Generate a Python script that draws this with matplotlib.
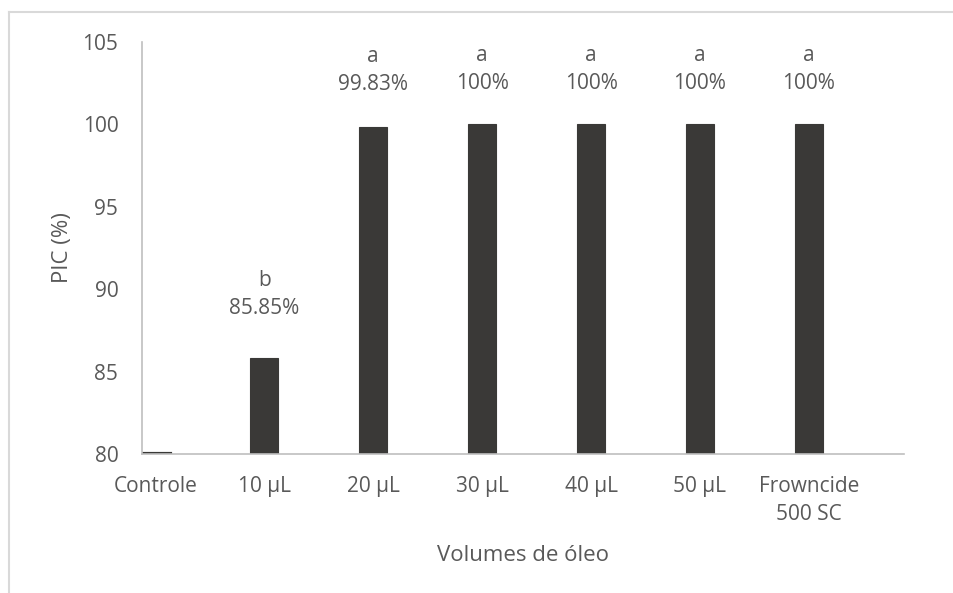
import matplotlib.pyplot as plt
from matplotlib.lines import Line2D
import numpy as np

categories = ["Controle", "10 µL", "20 µL", "30 µL", "40 µL", "50 µL", "Frowncide\n500 SC"]
pic_values = [0, 85.85, 99.83, 100, 100, 100, 100]
letters = ["", "b", "a", "a", "a", "a", "a"]
value_labels = ["", "85.85%", "99.83%", "100%", "100%", "100%", "100%"]
label_offsets = [0, 45.5, 41, 39.5, 39.5, 39.5, 39.5]  # points above the bar top

Y_MIN, Y_MAX = 80, 105
GREY_TEXT = "#595959"
BAR_COLOR = "#3a3937"

plt.rcParams["font.family"] = ["Open Sans", "DejaVu Sans"]

fig = plt.figure(figsize=(9.54, 5.93), dpi=100)
ax = fig.add_axes([0.1488, 0.2344, 0.7988, 0.6948])

x = np.arange(len(categories))
heights = np.array(pic_values) - Y_MIN
# the control sits below the axis minimum, so only its edge shows as a line
edge_widths = [3 if v < Y_MIN else 0.8 for v in pic_values]
ax.bar(x, heights, bottom=Y_MIN, width=0.257, color=BAR_COLOR,
       edgecolor=BAR_COLOR, linewidth=edge_widths, zorder=2)

for xi, v, letter, lab, off in zip(x, pic_values, letters, value_labels, label_offsets):
    if not lab:
        continue
    ax.annotate(f"{letter}\n{lab}", xy=(xi, v), xytext=(0, off),
                textcoords="offset points", ha="center", va="center",
                fontsize=15, color=GREY_TEXT, linespacing=1.45,
                annotation_clip=False)

ax.set_xlim(-0.125, len(categories) - 0.125)
ax.set_ylim(Y_MIN, Y_MAX)
ax.set_yticks(np.arange(Y_MIN, Y_MAX + 1, 5))
ax.set_xticks(x)
ax.set_xticklabels(categories, linespacing=1.45)

ax.tick_params(axis="both", length=0, labelsize=15, labelcolor=GREY_TEXT)
ax.tick_params(axis="y", pad=17)
ax.tick_params(axis="x", pad=16)

for side in ("top", "right"):
    ax.spines[side].set_visible(False)
for side in ("left", "bottom"):
    ax.spines[side].set_color("#bfbfbf")
    ax.spines[side].set_linewidth(1.2)
    ax.spines[side].set_zorder(3)

ax.set_xlabel("Volumes de óleo", fontsize=16, color=GREY_TEXT, labelpad=14)
ax.set_ylabel("PIC (%)", fontsize=16, color=GREY_TEXT, labelpad=7)

# outer chart border (top and left edges visible)
fig.add_artist(Line2D([9 / 954, 1.0], [1 - 12 / 593] * 2, transform=fig.transFigure,
                      color="#d9d9d9", linewidth=1.5))
fig.add_artist(Line2D([9 / 954] * 2, [0.0, 1 - 12 / 593], transform=fig.transFigure,
                      color="#d9d9d9", linewidth=1.5))

fig.savefig("out.png", dpi=100, facecolor="white")
